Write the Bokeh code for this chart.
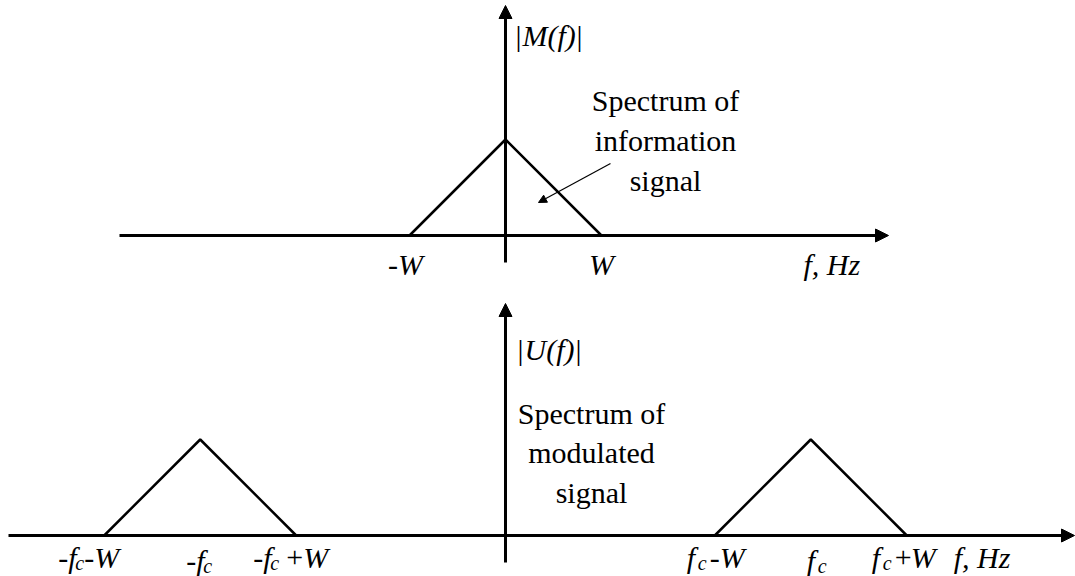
from bokeh.plotting import figure
from bokeh.layouts import column
from bokeh.models import Range1d, Arrow, NormalHead
from bokeh.core.properties import value
from bokeh.embed import file_html
from bokeh.resources import INLINE

# ---------------- data (frequency in units of W, amplitude normalised) ----------------
W = 1.0
FC = 3.18
PEAK = 1.0

m_freq = [-W, 0.0, W]            # |M(f)| triangle
m_amp = [0.0, PEAK, 0.0]
u_freq_neg = [-FC - W, -FC, -FC + W]   # |U(f)| lower copy
u_freq_pos = [FC - W, FC, FC + W]      # |U(f)| upper copy
u_amp = [0.0, PEAK, 0.0]

top_tick_f = [-W, W]
top_tick_labels = ["-W", "W"]
bottom_tick_f = [-FC - W, -FC, -FC + W, FC - W, FC, FC + W]

info_lines = ["Spectrum of", "information", "signal"]
mod_lines = ["Spectrum of", "modulated", "signal"]

FONT = value("Liberation Serif")
PX = 96.0  # pixels per unit of W (layout scale)


def base_fig(h, y0, y1):
    p = figure(width=1075, height=h, x_range=Range1d(-505 / PX, 570 / PX),
               y_range=Range1d(y0, y1), output_backend="svg",
               toolbar_location=None, min_border=0)
    p.axis.visible = False
    p.grid.visible = False
    p.outline_line_color = None
    p.background_fill_color = "white"
    p.border_fill_color = "white"
    return p


def arrow(p, xs, ys, xe, ye, lw=3, size=13):
    p.add_layout(Arrow(x_start=xs, y_start=ys, x_end=xe, y_end=ye,
                       line_width=lw, line_color="black",
                       end=NormalHead(size=size, fill_color="black",
                                      line_color="black", line_width=1)))


def pieces(p, x, y, parts, size=30):
    # parts: (text, italic, dx_px, dy_px, scale)
    for s, it, dx, dy, sc in parts:
        p.text(x=[x], y=[y], text=[s], x_offset=dx, y_offset=dy,
               text_font=FONT, text_font_style="italic" if it else "normal",
               text_font_size=f"{size * sc:.0f}px", text_align="left",
               text_baseline="alphabetic", text_color="black")


def lines_block(p, x, ys, texts, size=30):
    p.text(x=[x] * len(texts), y=ys, text=texts, text_font=FONT,
           text_font_size=f"{size}px", text_align="center",
           text_baseline="middle", text_color="black")


# ---------------- top panel ----------------
top = base_fig(285, -50 / PX, 235 / PX)
arrow(top, -386 / PX, 0, 383 / PX, 0)
arrow(top, 0, -27 / PX, 0, 230 / PX)
top.line(m_freq, m_amp, line_width=2.5, line_color="black")
arrow(top, 105 / PX, 72 / PX, 33 / PX, 33 / PX, lw=1.2, size=8)

pieces(top, 0, 200 / PX, [("|", False, 10, 0, 1), ("M(f)", True, 17, 0, 1),
                          ("|", False, 71, 0, 1)])
lines_block(top, 160 / PX, [135 / PX, 95 / PX, 55 / PX], info_lines)
top.text(x=top_tick_f, y=[-29 / PX] * 2, text=top_tick_labels, x_offset=[-4, 0],
         text_font=FONT, text_font_style="italic", text_font_size="30px",
         text_align="center", text_baseline="alphabetic", text_color="black")
pieces(top, 3.0, -29 / PX, [("f, Hz", True, 10, 0, 1)])

# ---------------- bottom panel ----------------
bot = base_fig(291, -41 / PX, 250 / PX)
arrow(bot, -497 / PX, 0, 569 / PX, 0)
arrow(bot, 0, -27 / PX, 0, 232 / PX)
bot.line(u_freq_neg, u_amp, line_width=2.5, line_color="black")
bot.line(u_freq_pos, u_amp, line_width=2.5, line_color="black")

pieces(bot, 0, 186 / PX, [("|", False, 12, 0, 1), ("U(f)", True, 19, 0, 1),
                          ("|", False, 70, 0, 1)])
lines_block(bot, 86 / PX, [122 / PX, 83 / PX, 43 / PX], mod_lines)

yb = -22 / PX
yp = -25 / PX
sub = 5
pieces(bot, bottom_tick_f[0], yb, [("-f", True, -46, 0, 1), ("c", True, -29, sub, 0.65),
                                    ("-W", True, -20, 0, 1)])
pieces(bot, bottom_tick_f[1], yp, [("-f", True, -14, 0, 1), ("c", True, 3, sub, 0.65)])
pieces(bot, bottom_tick_f[2], yb, [("-f", True, -43, 0, 1), ("c", True, -26, sub, 0.65),
                                    ("+", False, -10, 0, 1), ("W", True, 7, 0, 1)])
pieces(bot, bottom_tick_f[3], yb, [("f", True, -28, 0, 1), ("c", True, -17, sub, 0.65),
                                    ("-W", True, -5, 0, 1)])
pieces(bot, bottom_tick_f[4], yp, [("f", True, -4, 0, 1), ("c", True, 7, sub, 0.65)])
pieces(bot, bottom_tick_f[5], yb, [("f", True, -35, 0, 1), ("c", True, -24, sub, 0.65),
                                    ("+", False, -12, 0, 1), ("W", True, 4, 0, 1)])
pieces(bot, bottom_tick_f[5], yb, [("f, Hz", True, 47, 0, 1)])

layout = column(top, bot, spacing=0)
open("out.html", "w").write(file_html(layout, INLINE))
